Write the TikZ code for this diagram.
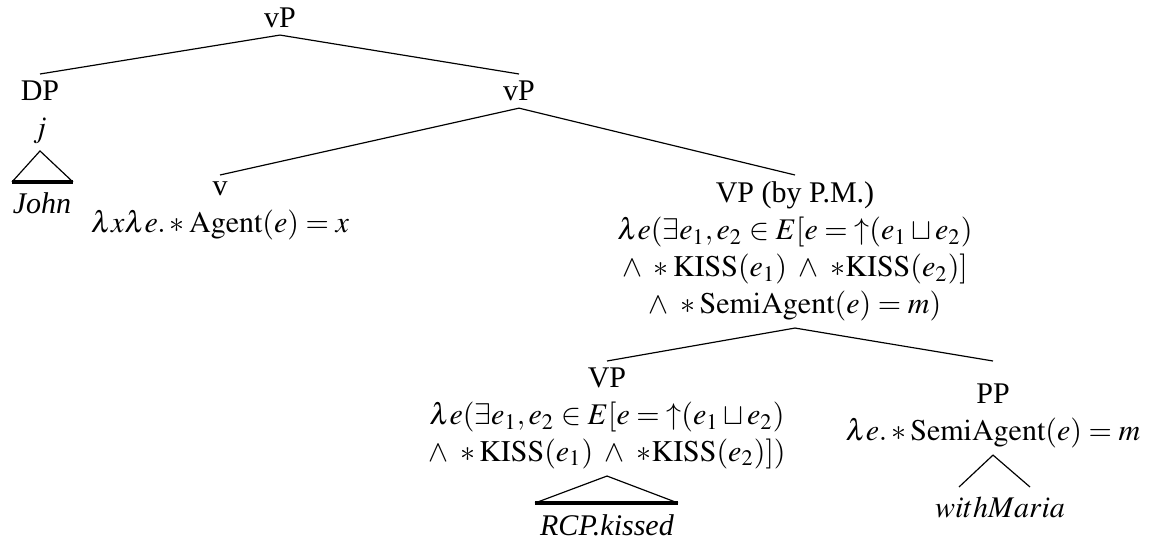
\documentclass[tikz,border=0pt]{standalone}
\usepackage{mathptmx}
\usepackage[no-math]{fontspec}
\setmainfont{Liberation Serif}
\begin{document}
\begin{tikzpicture}[x=0.38pt,y=-0.38pt,
  lab/.style={align=center, inner xsep=0pt, inner ysep=2.5pt, font=\fontsize{11.4}{14}\selectfont},
  edge/.style={line width=0.45pt},
  roofbase/.style={line width=1.3pt}]
\useasboundingbox (0,0) rectangle (1152,543);
% nodes
\node[lab] (root) at (280,18) {vP};
\node[lab,anchor=north] (dp) at (40,74) {DP\\$j$};
\node[lab] (john) at (42,203) {\textit{John}};
\node[lab,anchor=north] (vp2) at (519,74) {vP};
\node[lab,anchor=north] (v) at (220,175) {v\\$\lambda x\lambda e.*\mathrm{Agent}(e)=x$};
\node[lab,anchor=north] (vpm) at (795,175) {VP (by P.M.)\\
  $\lambda e(\exists e_1,e_2\in E[e={\uparrow}(e_1\sqcup e_2)$\\
  $\wedge\ *\mathrm{KISS}(e_1)\ \wedge\ *\mathrm{KISS}(e_2)]$\\
  $\wedge\ *\mathrm{SemiAgent}(e)=m)$};
\node[lab,anchor=north] (vp) at (607,361) {VP\\
  $\lambda e(\exists e_1,e_2\in E[e={\uparrow}(e_1\sqcup e_2)$\\
  $\wedge\ *\mathrm{KISS}(e_1)\ \wedge\ *\mathrm{KISS}(e_2)])$};
\node[lab] (pp) at (993,416) {PP\\$\lambda e.*\mathrm{SemiAgent}(e)=m$};
\node[lab] (rcp) at (607,525) {\textit{RCP.kissed}};
\node[lab] (maria) at (1000,507) {$withMaria$};
% roof corners
\coordinate (jl) at (12,182);
\coordinate (jr) at (73,182);
\coordinate (rl) at (535,503);
\coordinate (rr) at (678,503);
\coordinate (ml) at (959,487);
\coordinate (mr) at (1030,487);
% edges
\draw[edge] (root.south) -- (dp.north);
\draw[edge] (root.south) -- (vp2.north);
\draw[edge] (vp2.south) -- (v.north);
\draw[edge] (vp2.south) -- (vpm.north);
\draw[edge] (vpm.south) -- (vp.north);
\draw[edge] (vpm.south) -- (pp.north |- vp.north);
% roofs
\draw[edge] (jl) -- (dp.south) -- (jr);
\draw[roofbase] (jl) -- (jr);
\draw[edge] (rl) -- (vp.south) -- (rr);
\draw[roofbase] (rl) -- (rr);
\draw[edge] (ml) -- (pp.south) -- (mr);
\end{tikzpicture}
\end{document}
